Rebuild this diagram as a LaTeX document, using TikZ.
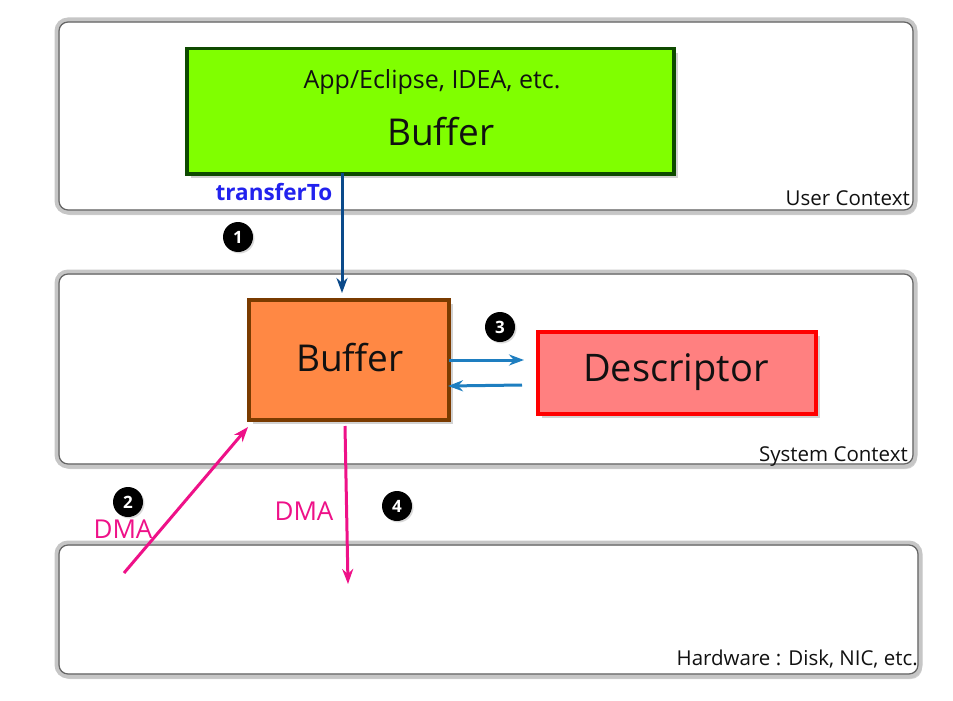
\documentclass[tikz,border=0pt]{standalone}
\usepackage{fontspec}
\setmainfont{Open Sans}
\usetikzlibrary{arrows.meta,shadows}
\definecolor{grnfill}{HTML}{80FF00}
\definecolor{grnedge}{HTML}{0E4A00}
\definecolor{orfill}{HTML}{FF8844}
\definecolor{oredge}{HTML}{7A3B00}
\definecolor{dsfill}{HTML}{FF8080}
\definecolor{dsedge}{HTML}{FF0000}
\definecolor{darkblue}{HTML}{0B4A8A}
\definecolor{lblue}{HTML}{1E7EC0}
\definecolor{pinkc}{HTML}{EE1188}
\definecolor{txtblue}{HTML}{2222EE}
\definecolor{txtdark}{HTML}{111111}
\tikzset{
  ctx/.style={draw=gray!45, fill=white, line width=5pt, rounded corners=11pt,
    drop shadow={shadow xshift=2pt, shadow yshift=-3pt, opacity=0.35, fill=gray}},
  ctxin/.style={draw=gray!80!black, line width=1.2pt, rounded corners=9pt},
  boxs/.style={line width=3.5pt, inner sep=0pt, anchor=north west,
    drop shadow={shadow xshift=4pt, shadow yshift=-4pt, opacity=0.35}},
  num/.style={circle, fill=black, text=white, minimum size=30pt, inner sep=0pt,
    font=\bfseries\fontsize{17}{17}\selectfont,
    drop shadow={shadow xshift=1.5pt, shadow yshift=-1.5pt, opacity=0.3}},
  ctxlabel/.style={anchor=base east, font=\fontsize{20.5}{20.5}\selectfont, text=txtdark, inner sep=0pt},
  dmalabel/.style={text=pinkc, font=\fontsize{26}{26}\selectfont, inner sep=0pt},
  arr/.style={line width=3pt, -{Stealth[length=15pt,width=11pt]}}
}
\begin{document}
\begin{tikzpicture}[x=1pt,y=-1pt]
\useasboundingbox (0,0) rectangle (953,701);
% containers
\draw[ctx] (57,20) rectangle (915,212);
\draw[ctxin] (59,22) rectangle (913,210);
\draw[ctx] (57,272) rectangle (915,466);
\draw[ctxin] (59,274) rectangle (913,464);
\draw[ctx] (57,543) rectangle (920,676);
\draw[ctxin] (59,545) rectangle (918,674);
\node[ctxlabel] (ucl) at (910,205) {User Context};
\node[ctxlabel] (scl) at (908,461) {System Context};
\node[ctxlabel] (hwl) at (918,665) {Hardware : Disk, NIC, etc.};
% boxes
\node[boxs, draw=grnedge, fill=grnfill, minimum width=487pt, minimum height=125pt] (app) at (185,47) {};
\node[text=txtdark, font=\fontsize{25}{25}\selectfont] (apptxt) at (432,82) {App/Eclipse, IDEA, etc.};
\node[text=txtdark, font=\fontsize{37}{37}\selectfont] (appbuf) at (441,132) {Buffer};
\node[boxs, draw=oredge, fill=orfill, minimum width=200pt, minimum height=120pt] (sbuf) at (247,298) {};
\node[text=txtdark, font=\fontsize{37}{37}\selectfont] (sbuftxt) at (350,358) {Buffer};
\node[boxs, draw=dsedge, fill=dsfill, minimum width=278pt, minimum height=82pt] (desc) at (536,330) {};
\node[text=txtdark, font=\fontsize{38}{38}\selectfont] (desctxt) at (676,372) {Descriptor};
% arrows
\coordinate (a1s) at (342,173);
\coordinate (a1e) at (342,293);
\draw[arr, darkblue] (a1s) -- (a1e);
\node[text=txtblue, font=\bfseries\fontsize{22.5}{22.5}\selectfont] (tt) at (274,192) {transferTo};
\coordinate (b1s) at (449,360);
\coordinate (b1e) at (524,360);
\coordinate (b2s) at (522,385);
\coordinate (b2e) at (448,386);
\draw[arr, lblue, line width=3pt] (b1s) -- (b1e);
\draw[arr, lblue, line width=3pt] (b2s) -- (b2e);
\coordinate (p1s) at (124,573);
\coordinate (p1e) at (248,427);
\coordinate (p2s) at (345,426);
\coordinate (p2e) at (348,584);
\draw[arr, pinkc] (p1s) -- (p1e);
\draw[arr, pinkc] (p2s) -- (p2e);
\node[dmalabel] (dma1) at (123,529) {DMA};
\node[dmalabel] (dma2) at (304,511) {DMA};
% numbers
\node[num] (n1) at (238,237) {1};
\node[num] (n2) at (128,502) {2};
\node[num] (n3) at (500,327) {3};
\node[num] (n4) at (397,506) {4};
\end{tikzpicture}
\end{document}
